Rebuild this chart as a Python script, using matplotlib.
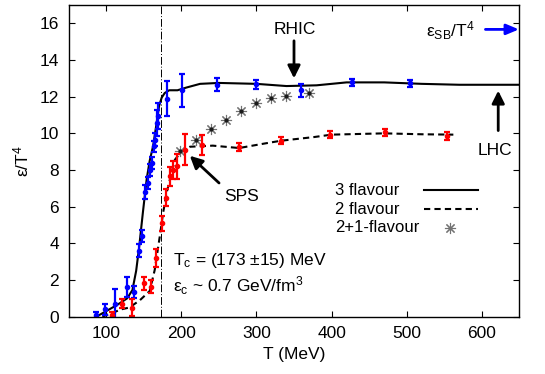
import matplotlib
matplotlib.use('Agg')
import matplotlib.pyplot as plt
from matplotlib.lines import Line2D

plt.rcParams['font.family'] = ['Liberation Sans', 'DejaVu Sans']
plt.rcParams['mathtext.fontset'] = 'custom'
plt.rcParams['mathtext.rm'] = 'Liberation Sans'
plt.rcParams['mathtext.it'] = 'Liberation Sans:italic'
plt.rcParams['font.size'] = 12.5

# curva 3 flavour (linea continua)
t_3f = [87, 100, 115, 128, 135, 140, 144, 149, 154, 158, 162.5, 167, 170.5, 174, 178, 184,
        195, 207, 225, 250, 300, 340, 380, 420, 470, 520, 570, 650]
e_3f = [0, 0.3, 0.65, 1.0, 1.45, 2.5, 3.8, 5.7, 7.5, 8.5, 9.3, 10.5, 11.5, 11.95, 12.2, 12.35,
        12.35, 12.5, 12.7, 12.75, 12.7, 12.58, 12.62, 12.78, 12.78, 12.7, 12.65, 12.65]

# curva 2 flavour (tratteggiata)
t_2f = [95, 108, 120, 131, 145, 158, 164.7, 171.4, 175.8, 180.4, 185, 191.5, 200.5, 211.6,
        242, 277, 310, 333, 377, 400, 470, 520, 562]
e_2f = [0, 0.2, 0.4, 0.5, 0.9, 1.4, 2.55, 4.37, 5.65, 6.74, 7.5, 8.56, 9.02, 9.27,
        9.33, 9.2, 9.44, 9.6, 9.8, 9.93, 10.0, 9.95, 9.93]

# punti lattice blu (3 flavour)
t_blu = [86, 99, 112.5, 127.6, 136.6, 143.7, 147.3, 151.8, 155.4, 159, 160.7, 163.4, 165.1,
         167.8, 169.7, 180.4, 200.9, 247.3, 300, 359.8, 427, 504.8]
e_blu = [0.1, 0.4, 0.7, 1.64, 1.35, 3.6, 4.4, 6.8, 7.29, 8.0, 8.38, 9.29, 9.66,
         10.57, 10.93, 11.9, 12.35, 12.66, 12.68, 12.35, 12.79, 12.72]
err_blu = [0.15, 0.3, 0.8, 0.55, 0.35, 0.35, 0.35, 0.4, 0.35, 0.35, 0.35, 0.3, 0.35,
           0.7, 0.7, 0.95, 0.9, 0.35, 0.25, 0.35, 0.2, 0.2]

# punti lattice rossi (2 flavour)
t_ros = [108, 121.5, 134.9, 150, 159.8, 167, 174.1, 179.5, 184.8, 189, 193.8, 205.3, 227.6,
         276.8, 333, 398, 471, 553]
e_ros = [0.1, 0.7, 0.5, 1.82, 1.64, 3.19, 5.1, 6.5, 7.65, 8.0, 8.2, 9.1, 9.35,
         9.25, 9.6, 9.93, 10.05, 9.86]
err_ros = [0.15, 0.25, 0.45, 0.35, 0.35, 0.5, 0.4, 0.45, 0.5, 0.5, 0.7, 0.85, 0.55,
           0.2, 0.2, 0.2, 0.2, 0.2]

# asterischi 2+1 flavour
t_star = [198, 219, 239.3, 259.5, 279.4, 300, 319.6, 340, 370]
e_star = [9.02, 9.66, 10.22, 10.73, 11.2, 11.64, 11.92, 12.02, 12.22]

T_c = 173

fig = plt.figure(figsize=(5.45, 3.74), dpi=100)
ax = fig.add_axes([0.1257, 0.1532, 0.8275, 0.8334])

ax.axvline(T_c, color='black', lw=0.7, ls=(0, (8, 2, 1, 2)))

ax.plot(t_3f, e_3f, color='black', lw=1.5)
ax.plot(t_2f, e_2f, color='black', lw=1.5, ls=(0, (3, 2)))

star_mk = (8, 2, 0)
ax.plot(t_star, e_star, ls='none', marker=star_mk, ms=8, mec='0.45', mew=0.8)
ax.plot(t_star, e_star, ls='none', marker='o', ms=2, color='0.1')

ax.errorbar(t_blu, e_blu, yerr=err_blu, fmt='o', color='#0000ff', ms=3,
            elinewidth=1.6, capsize=2.5, capthick=1.6)
ax.errorbar(t_ros, e_ros, yerr=err_ros, fmt='o', color='#ff0000', ms=3,
            elinewidth=1.6, capsize=2.5, capthick=1.6)

ax.set_xlim(50, 650)
ax.set_ylim(0, 17)
ax.set_xticks([100, 200, 300, 400, 500, 600])
ax.set_yticks(range(0, 17, 2))
ax.tick_params(direction='in', top=True, right=True, length=4, width=0.8, pad=7)
for s in ax.spines.values():
    s.set_linewidth(1.0)

ax.set_xlabel('T (MeV)', labelpad=4)
ax.set_ylabel('ε/T$^4$', labelpad=6)

# annotazioni
frecc = dict(arrowstyle='-|>,head_length=0.6,head_width=0.3', color='black', lw=2)
ax.text(350.8, 15.67, 'RHIC', ha='center', va='center')
ax.annotate('', xy=(350, 12.85), xytext=(350, 15.2), arrowprops=frecc)
ax.text(617, 9.06, 'LHC', ha='center', va='center')
ax.annotate('', xy=(621.7, 12.48), xytext=(621.7, 10.0), arrowprops=frecc)
ax.text(279.8, 6.55, 'SPS', ha='center', va='center')
ax.annotate('', xy=(208.7, 8.88), xytext=(253, 7.19), arrowprops=frecc)

ax.text(590, 15.6, 'ε$_{\\rm SB}$/T$^4$', ha='right', va='center')
ax.annotate('', xy=(653, 15.67), xytext=(601, 15.67), annotation_clip=False,
            arrowprops=dict(arrowstyle='-|>,head_length=0.6,head_width=0.25',
                            color='#0000ff', lw=2))

ax.text(188.8, 2.8, 'T$_{\\rm c}$ = (173 $\\pm$15) MeV', ha='left', va='baseline')
ax.text(188.8, 1.35, 'ε$_{\\rm c}$ ~ 0.7 GeV/fm$^3$', ha='left', va='baseline')

# legenda in stile gnuplot
etichette = ['3 flavour', '2 flavour', '2+1-flavour']
righe_y = [0.4065, 0.3455, 0.2846]
for lab, yy in zip(etichette, righe_y):
    ax.text(0.5907, yy, lab, transform=ax.transAxes, ha='left', va='center', fontsize=12)
ax.add_line(Line2D([0.7876, 0.907], [righe_y[0]] * 2, transform=ax.transAxes,
                   color='black', lw=1.5))
ax.add_line(Line2D([0.7876, 0.907], [righe_y[1]] * 2, transform=ax.transAxes,
                   color='black', lw=1.5, ls=(0, (3, 2))))
ax.add_line(Line2D([0.847], [righe_y[2]], transform=ax.transAxes, ls='none',
                   marker=star_mk, ms=8, mec='0.45', mew=0.8))

fig.savefig('out.png', dpi=100)
